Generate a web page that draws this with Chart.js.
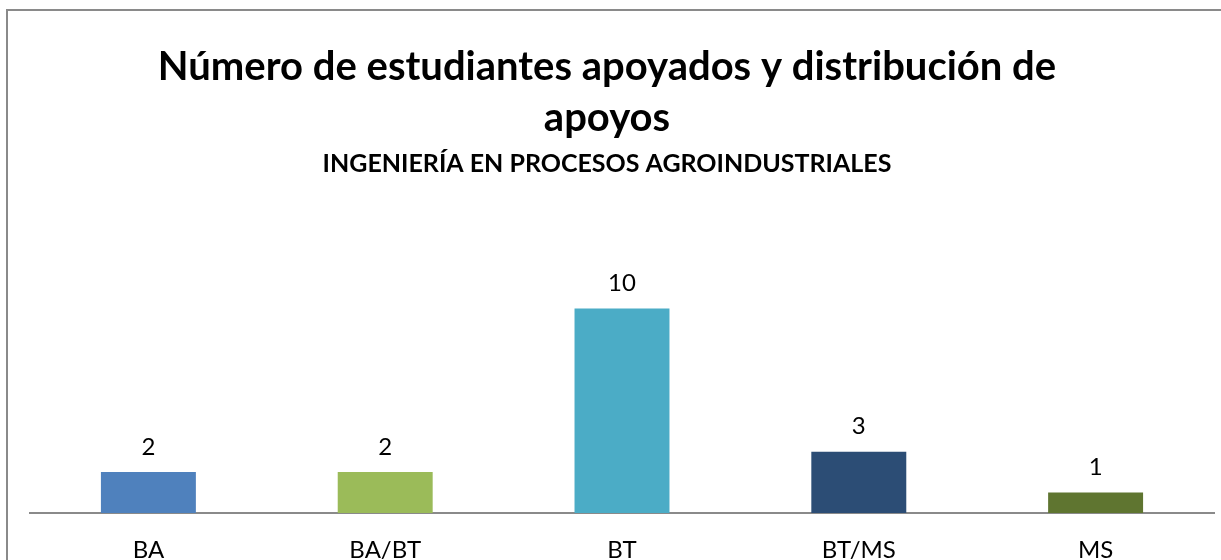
<!DOCTYPE html>
<html>
<head>
<meta charset="utf-8">
<script src="https://cdn.jsdelivr.net/npm/chart.js@4/dist/chart.umd.min.js"></script>
<style>
  html, body { margin: 0; padding: 0; background: #fff; overflow: hidden; }
  #wrap { position: relative; width: 1221px; height: 560px; overflow: hidden; }
  #frame { position: absolute; left: 6px; top: 9px; width: 1400px; height: 800px;
           border-left: 2px solid #8a8a8a; border-top: 2px solid #8a8a8a; }
  canvas { position: absolute; left: 0; top: 0; }
</style>
</head>
<body>
<div id="wrap">
  <div id="frame"></div>
  <canvas id="chart" width="1221" height="560"></canvas>
</div>
<script>
// Data
const categories = ['BA', 'BA/BT', 'BT', 'BT/MS', 'MS'];
const studentCounts = [2, 2, 10, 3, 1];
const barColors = ['#4f81bd', '#9bbb59', '#4bacc6', '#2c4d75', '#5f7530'];

const FONT = 'Lato, "Open Sans", sans-serif';

// value labels above each bar
const valueLabels = {
    id: 'valueLabels',
    afterDatasetsDraw(chart) {
        const ctx = chart.ctx;
        const meta = chart.getDatasetMeta(0);
        ctx.save();
        ctx.font = '24px ' + FONT;
        ctx.fillStyle = '#000';
        ctx.textAlign = 'center';
        ctx.textBaseline = 'middle';
        meta.data.forEach((bar, i) => {
            ctx.fillText(String(studentCounts[i]), bar.x, bar.y - 25);
        });
        ctx.restore();
    }
};

new Chart(document.getElementById('chart'), {
    type: 'bar',
    data: {
        labels: categories,
        datasets: [{
            data: studentCounts,
            backgroundColor: barColors,
            borderWidth: 0,
            barPercentage: 1,
            categoryPercentage: 0.401
        }]
    },
    options: {
        responsive: false,
        animation: false,
        layout: { padding: { left: 0, right: 7, top: 0, bottom: 0 } },
        plugins: {
            legend: { display: false },
            tooltip: { enabled: false },
            title: {
                display: true,
                text: ['Número de estudiantes apoyados y distribución de', 'apoyos'],
                color: '#000',
                font: { family: FONT, size: 40, weight: 'bold', lineHeight: 1.27 },
                padding: { top: 42, bottom: 0 }
            },
            subtitle: {
                display: true,
                text: 'INGENIERÍA EN PROCESOS AGROINDUSTRIALES',
                color: '#000',
                font: { family: FONT, size: 25, weight: 'bold', lineHeight: 1.2 },
                padding: { top: 5, bottom: 89 }
            }
        },
        scales: {
            x: {
                grid: { display: false, drawTicks: false },
                border: { display: true, color: '#8a8a8a', width: 2 },
                ticks: { color: '#000', font: { family: FONT, size: 24 }, padding: 23 },
                afterFit(scale) { scale.height = 47; }
            },
            y: {
                min: 0,
                max: 12,
                grid: { display: false, drawTicks: false },
                border: { display: false },
                ticks: { display: false },
                afterFit(scale) { scale.width = 30; }
            }
        }
    },
    plugins: [valueLabels]
});
</script>
</body>
</html>
